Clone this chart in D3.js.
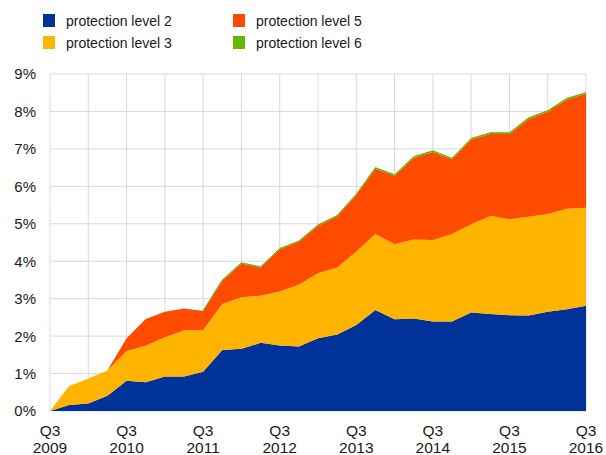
<!DOCTYPE html>
<html>
<head>
<meta charset="utf-8">
<script src="https://cdn.jsdelivr.net/npm/d3@7"></script>
<style>
  body { margin: 0; background: #fff; }
  svg text { font-family: "Liberation Sans", Arial, sans-serif; fill: #1a1a1a; }
</style>
</head>
<body>
<svg id="chart" width="606" height="455"></svg>
<script>
// quarters from Q3 2009 to Q3 2016
let quarters = d3.range(29);
let year_labels = ['2009', '2010', '2011', '2012', '2013', '2014', '2015', '2016'];

// shares in % of each protection level (stacked)
let level2 = [0, .16, .20, .41, .81, .77, .92, .92, 1.05, 1.63, 1.66, 1.82, 1.75, 1.72, 1.94,
	2.04, 2.30, 2.70, 2.45, 2.47, 2.39, 2.39, 2.63, 2.59, 2.56, 2.55, 2.65, 2.72, 2.81];
let level3 = [0, .51, .67, .67, .79, .97, 1.05, 1.23, 1.11, 1.23, 1.38, 1.26, 1.44, 1.65, 1.74,
	1.79, 1.96, 2.03, 2.00, 2.11, 2.18, 2.34, 2.36, 2.62, 2.56, 2.64, 2.61, 2.68, 2.62];
let level5 = [0, 0, 0, 0, .34, .72, .68, .59, .51, .62, .90, .75, 1.13, 1.15, 1.27,
	1.37, 1.51, 1.74, 1.83, 2.18, 2.35, 1.99, 2.26, 2.19, 2.28, 2.61, 2.73, 2.92, 3.04];
let level6 = [0, 0, 0, 0, 0, 0, 0, 0, .01, .02, .02, .02, .02, .02, .02,
	.02, .02, .03, .03, .03, .03, .03, .03, .03, .03, .03, .03, .03, .03];

let y_ticks = d3.range(0, 10);

let keys = ['l2', 'l3', 'l5', 'l6'];
let key_names = {l2: 'protection level 2', l3: 'protection level 3', l5: 'protection level 5', l6: 'protection level 6'};
let colors = {l2: '#003299', l3: '#FFB400', l5: '#FF4B00', l6: '#65B800'};

let margin = {left: 50, right: 20, top: 74, bottom: 44};
let width = 606, height = 455;

let rows = quarters.map(i => ({q: i, l2: level2[i], l3: level3[i], l5: level5[i], l6: level6[i]}));

let x = d3.scaleLinear()
	.domain([0, quarters.length - 1])
	.range([margin.left, width - margin.right]);

let y = d3.scaleLinear()
	.domain([0, 9])
	.range([height - margin.bottom, margin.top]);

let svg = d3.select('#chart');

// grid
svg.append('g')
	.selectAll('line')
	.data(y_ticks)
	.enter().append('line')
	.attr('x1', margin.left)
	.attr('x2', width - margin.right)
	.attr('y1', d => y(d))
	.attr('y2', d => y(d))
	.attr('stroke', '#d9d9d9')
	.attr('stroke-width', 1);

svg.append('g')
	.selectAll('line')
	.data(quarters.filter(d => d % 2 == 0))
	.enter().append('line')
	.attr('x1', d => x(d))
	.attr('x2', d => x(d))
	.attr('y1', y(0))
	.attr('y2', y(9))
	.attr('stroke', '#d9d9d9')
	.attr('stroke-width', 1);

// stacked areas
let series = d3.stack().keys(keys)(rows);

let area = d3.area()
	.x(d => x(d.data.q))
	.y0(d => y(d[0]))
	.y1(d => y(d[1]));

svg.append('g')
	.selectAll('path')
	.data(series)
	.enter().append('path')
	.attr('d', area)
	.attr('fill', d => colors[d.key]);

// green level sits on top as a thin band
svg.append('path')
	.datum(series[3].filter(d => d.data.q >= 8))
	.attr('d', d3.line().x(d => x(d.data.q)).y(d => y(d[1])))
	.attr('fill', 'none')
	.attr('stroke', colors.l6)
	.attr('stroke-width', 1);

// y axis labels
svg.append('g')
	.selectAll('text')
	.data(y_ticks)
	.enter().append('text')
	.attr('x', 36)
	.attr('y', d => y(d))
	.attr('dy', '0.36em')
	.attr('text-anchor', 'end')
	.style('font-size', '15px')
	.text(d => d + '%');

// x axis labels
let xl = svg.append('g')
	.selectAll('text')
	.data(year_labels)
	.enter().append('text')
	.attr('text-anchor', 'middle')
	.style('font-size', '15.5px');

xl.append('tspan')
	.attr('x', (d, i) => x(i * 4))
	.attr('y', 436)
	.text('Q3');

xl.append('tspan')
	.attr('x', (d, i) => x(i * 4))
	.attr('y', 453)
	.text(d => d);

// legend
let legend = svg.append('g')
	.selectAll('g')
	.data(['l2', 'l5', 'l3', 'l6'])
	.enter().append('g')
	.attr('transform', (d, i) => `translate(${i % 2 == 0 ? 43 : 233}, ${i < 2 ? 14 : 36})`);

legend.append('rect')
	.attr('width', 12)
	.attr('height', 13)
	.attr('fill', d => colors[d]);

legend.append('text')
	.attr('x', 23)
	.attr('y', 12)
	.style('font-size', '14px')
	.text(d => key_names[d]);
</script>
</body>
</html>
